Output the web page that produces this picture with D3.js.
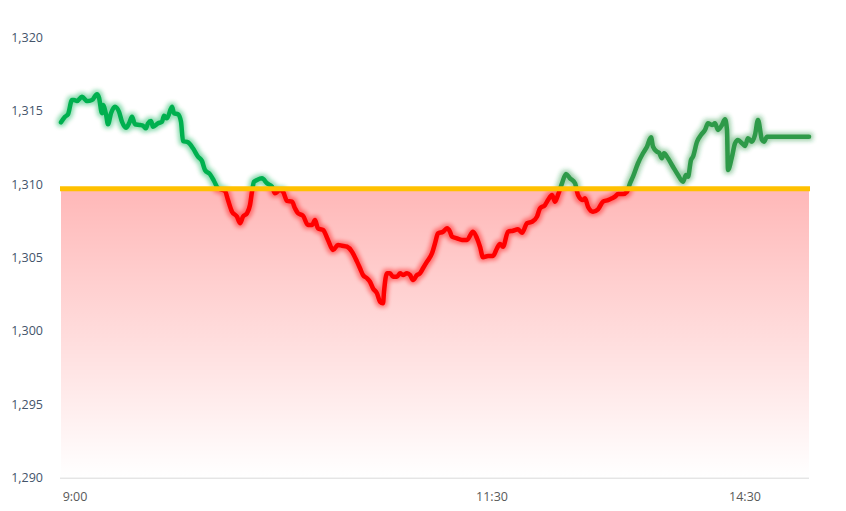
<!DOCTYPE html>
<html><head><meta charset="utf-8">
<script src="https://cdn.jsdelivr.net/npm/d3@7"></script>
<style>body{margin:0;background:#fff}svg{display:block}</style>
</head><body>
<svg id="chart" width="846" height="511"></svg>
<script>
// sequence number of each tick (category position) and its price
const tickNo = [
  0,2,3.5,5.5,6.5,8,10.5,13,15.5,18,
  19,20.5,21,22.5,23.5,25,27,29,30.5,32.5,
  34,35.5,37,39.5,41,42.5,43.5,45,46,48.5,
  50.5,51.5,53,55.5,56.5,58.5,60,61,63.5,66,
  68.5,70.5,72,74.5,76.5,78.5,82,83.5,85.5,88,
  89.5,91,93,94.5,95.5,96.5,98,100.5,103,105.5,
  107,109.5,111,113,115.5,117,118.5,121,123.5,125.5,
  127,128.5,131,133.5,136,138.5,140.5,143,145.5,148,
  149.5,151,153,154.5,156,158,159.5,161,161.5,163,
  164.5,166,168,169.5,171,173,174.5,176,178,179.5,
  181,183,185.5,187,188.5,191,193,194.5,195.5,198,
  200.5,203,206,208,209.5,211,213.5,216,218,219.5,
  221,223.5,226,228.5,230.5,233,235.5,238,239.5,242,
  243.5,245.5,247,248.5,250.5,252.5,254.5,257,258.5,261,
  262,263.5,266,268.5,271,273.5,275.5,277,278.5,281,
  283,284.5,286,
  288.5,291,293,295,296,298,299,300.5,301.5,303.5,
  306,308.5,311,312.5,313.5,315,316,318,320,322,
  323.5,325.5,327,328.5,330.5,332,333,333.5,335.5,337,
  338.5,340.5,342,343.5,345.5,347,348.5,350.5,351.5,353,
  374];
const price = [
  1314.23,1314.61,1314.78,1315.75,1315.75,1315.68,1315.98,1315.68,1315.75,1316.14,
  1315.91,1314.85,1315.41,1314.78,1314.10,1314.85,1315.30,1314.95,1314.27,1313.86,
  1314.16,1314.61,1314.10,1314.05,1314.00,1313.82,1314.16,1314.32,1313.93,1314.16,
  1314.27,1314.68,1314.50,1315.30,1314.85,1314.78,1314.27,1312.96,1312.87,1312.46,
  1311.89,1311.59,1310.98,1310.69,1310.23,1309.73,1309.55,1308.93,1308.14,1307.80,
  1307.35,1307.80,1308.03,1308.59,1309.50,1310.18,1310.30,1310.41,1310.07,1309.84,
  1309.39,1309.62,1309.50,1308.87,1308.82,1308.37,1308.03,1307.86,1307.23,1307.23,
  1307.57,1307.00,1306.89,1306.21,1305.53,1305.87,1305.82,1305.75,1305.41,1304.73,
  1304.28,1303.82,1303.60,1303.36,1302.91,1302.57,1302.00,1301.89,1302.68,1303.94,
  1303.94,1303.70,1303.70,1303.94,1303.82,1303.94,1303.82,1303.48,1303.82,1303.94,
  1304.28,1304.73,1305.30,1305.98,1306.66,1306.77,1307.00,1306.77,1306.43,1306.32,
  1306.21,1306.21,1306.77,1306.32,1305.75,1305.03,1305.12,1305.12,1305.64,1305.93,
  1305.75,1306.77,1306.84,1306.94,1306.70,1307.35,1307.45,1307.80,1308.37,1308.59,
  1308.93,1309.28,1308.82,1309.28,1310.07,1310.71,1310.41,1310.07,1309.28,1308.93,
  1309.05,1308.48,1308.14,1308.30,1308.82,1308.93,1309.05,1309.16,1309.34,1309.34,
  1309.50,1310.07,1310.52,
  1311.44,1312.12,1312.57,1313.21,1312.57,1312.23,1312.16,1311.78,1312.12,1311.78,
  1311.20,1310.64,1310.18,1310.64,1310.52,1311.66,1311.89,1312.91,1313.37,1313.71,
  1314.16,1314.05,1314.16,1313.71,1314.05,1314.44,1313.71,1310.98,1311.89,1312.80,
  1313.03,1312.80,1312.62,1313.14,1312.91,1313.37,1314.39,1313.03,1312.91,1313.25,
  1313.25];
const basePrice = 1309.7;          // reference (previous close) line
const yTicks = [1290, 1295, 1300, 1305, 1310, 1315, 1320];
const xTickLabels = ["9:00", "11:30", "14:30"];
const xTickAt = [7, 215.5, 342];
const lastTick = 374;
const afternoonFrom = 200;          // colour change of the up-line

const data = d3.zip(tickNo, price).map(([t, v]) => ({t, v}));

const svg = d3.select("#chart");
const padL = 61, padR = 809, padT = 37.7, padB = 477.7;
const x = d3.scaleLinear().domain([0, lastTick]).range([padL, padR]);
const y = d3.scaleLinear().domain([1290, 1320]).range([padB, padT]);
const yb = y(basePrice);

const defs = svg.append("defs");
const grad = defs.append("linearGradient").attr("id", "redFade")
  .attr("gradientUnits", "userSpaceOnUse")
  .attr("x1", 0).attr("x2", 0).attr("y1", yb).attr("y2", padB);
grad.append("stop").attr("offset", 0).attr("stop-color", "#ff0000").attr("stop-opacity", 0.28);
grad.append("stop").attr("offset", 1).attr("stop-color", "#ff0000").attr("stop-opacity", 0.0);

function glow(id) {
  const f = defs.append("filter").attr("id", id)
    .attr("filterUnits", "userSpaceOnUse")
    .attr("x", 0).attr("y", 0).attr("width", 846).attr("height", 511);
  f.append("feMorphology").attr("in", "SourceGraphic").attr("operator", "dilate").attr("radius", 1.5).attr("result", "fat");
  f.append("feGaussianBlur").attr("in", "fat").attr("stdDeviation", 2.2).attr("result", "blur");
  f.append("feComponentTransfer").attr("in", "blur").attr("result", "soft")
    .append("feFuncA").attr("type", "linear").attr("slope", 0.45);
  const m = f.append("feMerge");
  m.append("feMergeNode").attr("in", "soft");
  m.append("feMergeNode").attr("in", "SourceGraphic");
}
glow("glowG"); glow("glowD"); glow("glowR");

function clip(id, x0, x1, y0, y1) {
  defs.append("clipPath").attr("id", id).append("rect")
    .attr("x", x0).attr("y", y0).attr("width", x1 - x0).attr("height", y1 - y0);
}
clip("cUpAm", 0, x(afternoonFrom), 0, yb);
clip("cUpPm", x(afternoonFrom), 846, 0, yb);
clip("cDown", 0, 846, yb, 511);

// red area below the reference line
const area = d3.area().x(d => x(d)).y0(padB).y1(yb);
svg.append("path").datum([0, lastTick]).attr("d", area).attr("fill", "url(#redFade)");

// axis line
svg.append("line").attr("x1", padL - 1).attr("x2", padR).attr("y1", padB + 0.5).attr("y2", padB + 0.5)
  .attr("stroke", "#d9d9d9").attr("stroke-width", 1);

// y labels
svg.append("g").selectAll("text").data(yTicks).join("text")
  .attr("x", 43).attr("y", d => y(d)).attr("dy", "0.35em")
  .attr("text-anchor", "end")
  .attr("font-family", "'Open Sans', sans-serif").attr("font-size", 12.5)
  .attr("fill", "#44546a").text(d3.format(","));

// x labels
svg.append("g").selectAll("text").data(xTickLabels).join("text")
  .attr("x", (d, i) => x(xTickAt[i])).attr("y", 501)
  .attr("text-anchor", "middle")
  .attr("font-family", "'Open Sans', sans-serif").attr("font-size", 12.5)
  .attr("fill", "#595959").text(d => d);

const line = d3.line().x(d => x(d.t)).y(d => y(d.v)).curve(d3.curveMonotoneX);
function drawPart(clipId, color, filterId) {
  svg.append("g").attr("clip-path", `url(#${clipId})`)
    .append("path").datum(data).attr("d", line)
    .attr("fill", "none").attr("stroke", color).attr("stroke-width", 4.5)
    .attr("stroke-linejoin", "round").attr("stroke-linecap", "round")
    .attr("filter", `url(#${filterId})`);
}
drawPart("cUpAm", "#00b050", "glowG");
drawPart("cUpPm", "#2e9a48", "glowD");
drawPart("cDown", "#ff0000", "glowR");

// reference line
svg.append("line").attr("x1", padL - 1).attr("x2", padR + 1).attr("y1", yb).attr("y2", yb)
  .attr("stroke", "#ffc000").attr("stroke-width", 5);
</script>
</body></html>
